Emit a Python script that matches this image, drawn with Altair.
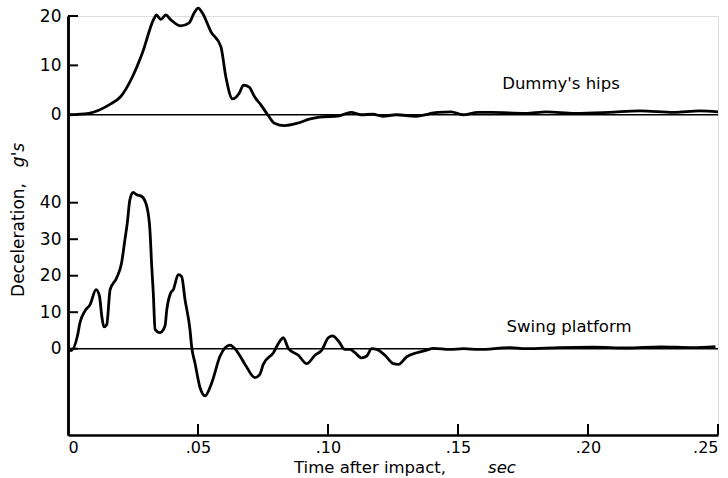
import altair as alt
import pandas as pd

# ---- data ----
hips_t = [0, 0.008, 0.0158, 0.0203, 0.0248, 0.0286, 0.0331, 0.034, 0.0357, 0.0376, 0.0396,
          0.0434, 0.0466, 0.0485, 0.0501, 0.0517, 0.055, 0.0588, 0.0607, 0.0633, 0.0659,
          0.0675, 0.0697, 0.0717, 0.0742, 0.0768, 0.0794, 0.0832, 0.0883, 0.0928, 0.0967,
          0.1044, 0.1089, 0.1127, 0.1172, 0.1211, 0.1262, 0.1339, 0.139, 0.1423, 0.1474,
          0.1519, 0.1577, 0.163, 0.176, 0.184, 0.195, 0.208, 0.22, 0.233, 0.243, 0.25]
hips_g = [0, 0.3, 2.0, 3.7, 7.7, 12.5, 19.5, 20.2, 19.3, 20.2, 19.2,
          18.0, 18.6, 20.6, 21.6, 20.6, 16.8, 13.8, 7.7, 3.2, 4.4,
          6.0, 5.6, 3.7, 2.0, 0, -1.7, -2.2, -1.7, -0.9, -0.5,
          -0.2, 0.5, 0, 0.1, -0.3, 0, -0.3, 0.2, 0.5, 0.6,
          0.0, 0.5, 0.5, 0.3, 0.6, 0.3, 0.5, 0.8, 0.5, 0.8, 0.6]

plat_t = [0, 0.0012, 0.0036, 0.0046, 0.0065, 0.0085, 0.0108, 0.0121, 0.013, 0.0138, 0.0149,
          0.0162, 0.0187, 0.0206, 0.0219, 0.0228, 0.0238, 0.0251, 0.0264, 0.0284, 0.0303,
          0.0315, 0.0322, 0.0328, 0.0335, 0.0354, 0.0373, 0.038, 0.0395, 0.0405, 0.0424,
          0.0437, 0.045, 0.0469, 0.0476, 0.0488, 0.0508, 0.0527, 0.0553, 0.0585, 0.0623,
          0.065, 0.0681, 0.0719, 0.0738, 0.0751, 0.079, 0.0815, 0.0828, 0.0848, 0.0886,
          0.0918, 0.095, 0.0976, 0.1001, 0.1018, 0.104, 0.1065, 0.1085, 0.1104, 0.1129,
          0.1149, 0.1168, 0.1187, 0.1219, 0.1251, 0.127, 0.1303, 0.1341, 0.1379, 0.1405,
          0.1469, 0.1521, 0.158, 0.17, 0.176, 0.189, 0.202, 0.215, 0.228, 0.24, 0.249]
plat_g = [0, -0.5, 3.4, 7.1, 10.3, 12.1, 16.2, 14.4, 8.9, 6.0, 6.6,
          16.2, 19.4, 23.5, 29.9, 34.4, 40.8, 42.8, 42.2, 41.7, 39.0,
          32.6, 22.6, 15.3, 5.3, 4.4, 6.2, 10.7, 15.3, 16.2, 20.3,
          19.8, 13.5, 5.3, 0.3, -3.8, -10.7, -12.9, -9.3, -2.0, 1.0,
          -0.7, -4.3, -7.9, -7.0, -4.3, -1.1, 2.1, 3.0, 0, -1.8,
          -4.1, -1.8, -0.4, 3.0, 3.5, 2.1, -0.2, -0.2, -1.1, -2.5,
          -2.0, 0, -0.2, -1.8, -4.1, -4.3, -2.2, -1.1, -0.4, 0.1,
          -0.2, 0, -0.2, 0.3, 0, 0.3, 0.4, 0.2, 0.5, 0.3, 0.6]

x_ticks = [0, 0.05, 0.10, 0.15, 0.20, 0.25]
hips_ticks = [0, 10, 20]
plat_ticks = [0, 10, 20, 30, 40]
curve_labels = ["Dummy's hips", "Swing platform"]
label_t = [0.167, 0.1687]
label_g = [6.3, 5.9]
y_title = ["Deceleration,", "g's"]
x_title = ["Time after impact,", "sec"]

# ---- layout ----
FONT = "DejaVu Sans"
W, H = 650, 419
hips_scale = alt.Scale(domain=[-64.85, 20], nice=False, zero=False)
plat_scale = alt.Scale(domain=[-23.64, 91.15], nice=False, zero=False)
x_scale = alt.Scale(domain=[0, 0.25], nice=False, zero=False)

x_axis = alt.Axis(values=x_ticks, grid=False, ticks=False, tickSize=0, domain=True,
                  domainWidth=2.5, domainColor="black", labelFont=FONT, labelFontSize=16,
                  labelColor="black", labelPadding=4, title=None,
                  labelExpr="datum.value == 0 ? '0' : replace(format(datum.value, '.2f'), '0.', '.')")


def y_axis(vals):
    return alt.Axis(values=vals, orient="left", grid=False, ticks=False, tickSize=0,
                    domain=True, domainWidth=2.5, domainColor="black", labelFont=FONT,
                    labelFontSize=17, labelColor="black", labelPadding=7, title=None)


X = alt.X("t:Q", scale=x_scale, axis=x_axis)
Yh = alt.Y("g:Q", scale=hips_scale, axis=y_axis(hips_ticks))
Yp = alt.Y("g:Q", scale=plat_scale, axis=y_axis(plat_ticks))

hips_df = pd.DataFrame({"t": hips_t, "g": hips_g})
plat_df = pd.DataFrame({"t": plat_t, "g": plat_g})
zero_df = pd.DataFrame({"t": [0], "t2": [0.25], "g": [0]})
lab_df = pd.DataFrame({"t": label_t, "g": label_g, "label": curve_labels})


def panel(df, Y, ticks, label_idx):
    line = alt.Chart(df).mark_line(color="black", strokeWidth=2.8, strokeJoin="round",
                                   interpolate="monotone").encode(x=X, y=Y)
    zero = alt.Chart(zero_df).mark_rule(color="black", strokeWidth=1.4).encode(
        x=X, x2="t2:Q", y=Y)
    tick = alt.Chart(pd.DataFrame({"g": ticks})).mark_rule(color="black", strokeWidth=2).encode(
        x=alt.value(0), x2=alt.value(10), y=Y)
    lab = alt.Chart(lab_df.iloc[[label_idx]]).mark_text(
        align="left", baseline="middle", font=FONT, fontSize=16.5, color="black").encode(
        x=X, y=Y, text="label:N")
    return alt.layer(zero, line, tick, lab)


hips = panel(hips_df, Yh, hips_ticks, 0)
xticks = alt.Chart(pd.DataFrame({"t": x_ticks[1:]})).mark_rule(color="black", strokeWidth=2).encode(
    x=X, y=alt.value(H), y2=alt.value(H - 11))
plat = alt.layer(panel(plat_df, Yp, plat_ticks, 1), xticks)

yt1 = alt.Chart(pd.DataFrame({"s": [y_title[0]]})).mark_text(
    angle=270, align="center", baseline="middle", font=FONT, fontSize=17, color="black").encode(
    x=alt.value(-49), y=alt.value(224), text="s:N")
yt2 = alt.Chart(pd.DataFrame({"s": [y_title[1]]})).mark_text(
    angle=270, align="center", baseline="middle", font=FONT, fontSize=17, fontStyle="italic",
    color="black").encode(x=alt.value(-49), y=alt.value(139), text="s:N")
xt1 = alt.Chart(pd.DataFrame({"s": [x_title[0]]})).mark_text(
    align="center", baseline="middle", font=FONT, fontSize=16.5, color="black").encode(
    x=alt.value(302), y=alt.value(452), text="s:N")
xt2 = alt.Chart(pd.DataFrame({"s": [x_title[1]]})).mark_text(
    align="center", baseline="middle", font=FONT, fontSize=16.5, fontStyle="italic",
    color="black").encode(x=alt.value(434), y=alt.value(452), text="s:N")

chart = alt.layer(hips, plat, yt1, yt2, xt1, xt2).resolve_scale(y="independent").properties(
    width=W, height=H,
    autosize=alt.AutoSizeParams(type="none"),
    padding={"left": 68, "top": 16, "right": 10, "bottom": 43},
).configure_view(stroke=None).configure(background="white")

chart.save("out.html", embed_options={"renderer": "svg", "actions": False})
